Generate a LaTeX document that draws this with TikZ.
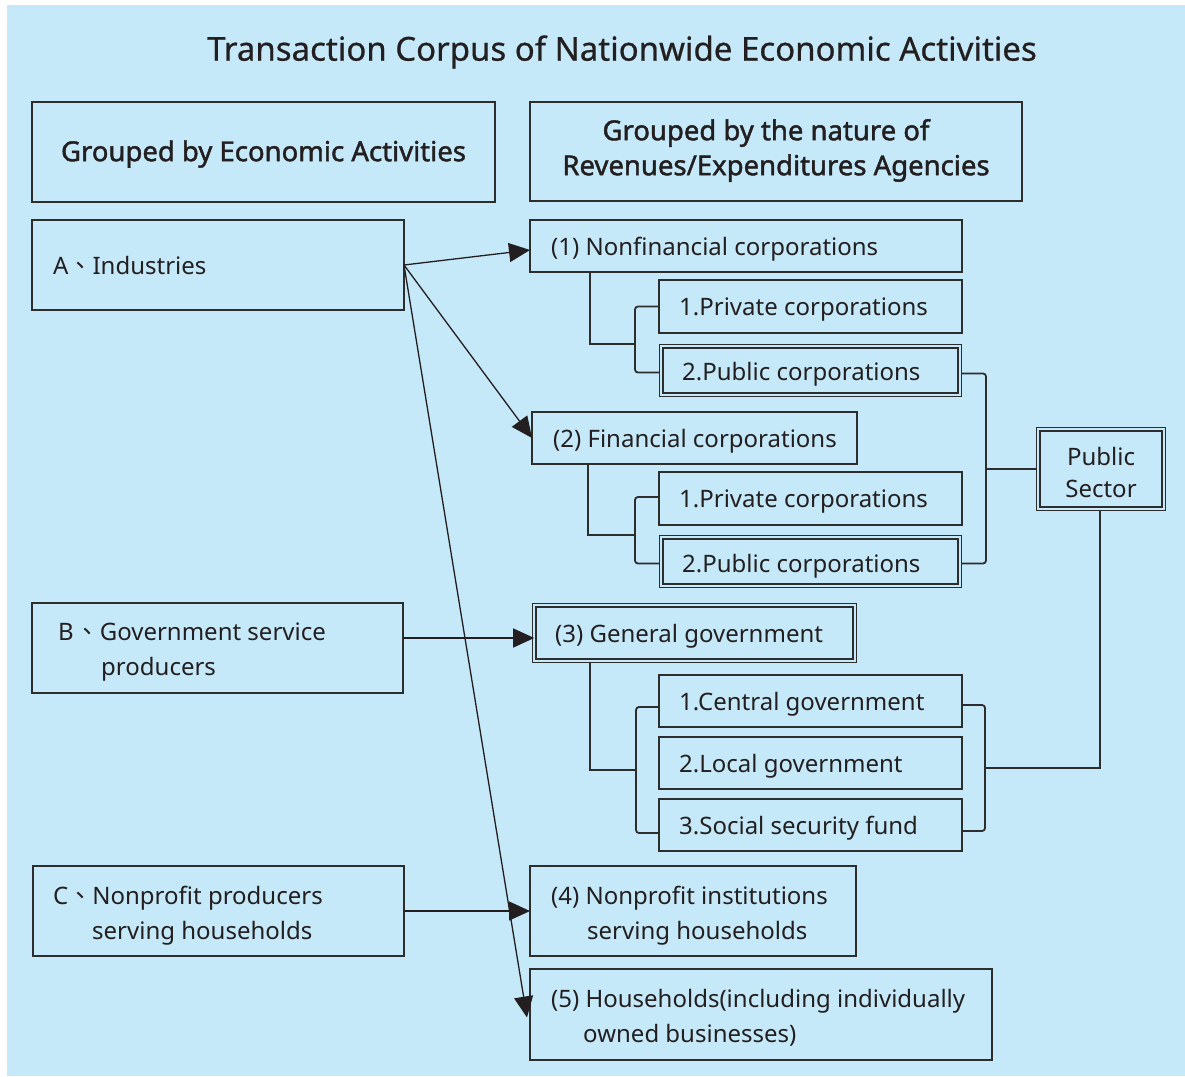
\documentclass[tikz,border=0pt]{standalone}
\usepackage{fontspec}
\setmainfont{Noto Sans}
\newfontfamily\cjk{Noto Sans CJK TC}
\newfontfamily\hdrfont[FakeBold=1.6]{Noto Sans}
\newfontfamily\ttlfont[FakeBold=0.6]{Noto Sans}
\usetikzlibrary{arrows.meta,calc}
\definecolor{bg}{RGB}{197,233,249}
\definecolor{ln}{RGB}{45,45,45}
\definecolor{tx}{RGB}{35,31,32}
\newcommand{\dun}{{\cjk 、}}
\begin{document}
\begin{tikzpicture}[x=1pt,y=-1pt,
 box/.style={draw=ln, line width=1.4pt, anchor=north west, inner sep=0pt, outer sep=0pt},
 dbox/.style={draw=ln, line width=1.6pt, double=bg, double distance=1.6pt, anchor=north west, inner sep=0pt, outer sep=0pt},
 txt/.style={text=tx, font=\fontsize{24}{35}\selectfont, inner sep=0pt, align=left, anchor=west},
 hdr/.style={text=tx, font=\hdrfont\fontsize{27.5}{35}\selectfont, inner sep=0pt, align=center},
 conn/.style={draw=ln, line width=1.8pt, rounded corners=3pt},
 arr/.style={draw=tx, line width=1.3pt, -{Triangle[length=21pt,width=19pt]}}
]
\useasboundingbox (0,0) rectangle (1185,1076);
\fill[white] (0,0) rectangle (1185,1076);
\fill[bg] (7,5) rectangle (1185,1076);

\node[text=tx, font=\ttlfont\fontsize{33}{40}\selectfont, inner sep=0pt] (title) at (622,52) {Transaction Corpus of Nationwide Economic Activities};

% headers
\node[box, minimum width=463pt, minimum height=100pt] (hl) at (32,102) {};
\node[hdr] (hlt) at ($(hl.center)+(0,2)$) {Grouped by Economic Activities};
\node[box, minimum width=492pt, minimum height=99pt] (hr) at (530,102) {};
\node[hdr] (hrt) at ($(hr.center)+(0,-1)$) {Grouped by the nature of\hspace*{20pt}\\Revenues/Expenditures Agencies};

% left boxes
\node[box, minimum width=372pt, minimum height=90pt] (A) at (32,220) {};
\node[txt] (At) at ($(A.west)+(21,0)$) {A\dun Industries};
\node[box, minimum width=371pt, minimum height=90pt] (B) at (32,603) {};
\node[txt] (Bt) at ($(B.west)+(26,4.5)$) {B\hspace{2pt}\dun Government service\\\hspace*{43pt}producers};
\node[box, minimum width=371pt, minimum height=90pt] (C) at (33,866) {};
\node[txt] (Ct) at ($(C.west)+(20,5)$) {C\dun Nonprofit producers\\\hspace*{39pt}serving households};

% right boxes
\node[box, minimum width=432pt, minimum height=52pt] (n1) at (530,220) {};
\node[txt] (n1t) at ($(n1.west)+(21,3.5)$) {(1) Nonfinancial corporations};
\node[box, minimum width=303pt, minimum height=53pt] (n1a) at (659,280) {};
\node[txt] (n1at) at ($(n1a.west)+(20,3.5)$) {1.Private corporations};
\node[dbox, minimum width=298.6pt, minimum height=48.6pt] (n1b) at (661.2,346.2) {};
\node[txt] (n1bt) at ($(n1b.west)+(20.8,3.5)$) {2.Public corporations};

\node[box, minimum width=325pt, minimum height=52pt] (n2) at (532,412) {};
\node[txt] (n2t) at ($(n2.west)+(21,3.5)$) {(2) Financial corporations};
\node[box, minimum width=303pt, minimum height=53pt] (n2a) at (659,472) {};
\node[txt] (n2at) at ($(n2a.west)+(20,3.5)$) {1.Private corporations};
\node[dbox, minimum width=298.6pt, minimum height=48.6pt] (n2b) at (661.2,537.2) {};
\node[txt] (n2bt) at ($(n2b.west)+(20.8,4.5)$) {2.Public corporations};

\node[dbox, minimum width=320.6pt, minimum height=55.6pt] (n3) at (534.2,605.2) {};
\node[txt] (n3t) at ($(n3.west)+(20.8,3)$) {(3) General government};
\node[box, minimum width=303pt, minimum height=52pt] (g1) at (659,675) {};
\node[txt] (g1t) at ($(g1.west)+(20,3)$) {1.Central government};
\node[box, minimum width=303pt, minimum height=52pt] (g2) at (659,737) {};
\node[txt] (g2t) at ($(g2.west)+(20,3)$) {2.Local government};
\node[box, minimum width=303pt, minimum height=52pt] (g3) at (659,799) {};
\node[txt] (g3t) at ($(g3.west)+(20,3)$) {3.Social security fund};

\node[box, minimum width=326pt, minimum height=90pt] (n4) at (530,866) {};
\node[txt] (n4t) at ($(n4.west)+(21,5)$) {(4) Nonprofit institutions\\\hspace*{36pt}serving households};
\node[box, minimum width=462pt, minimum height=91pt] (n5) at (530,969) {};
\node[txt] (n5t) at ($(n5.west)+(21,3.5)$) {(5) Households(including individually\\\hspace*{32pt}owned businesses)};

\node[dbox, minimum width=125.6pt, minimum height=79.6pt] (ps) at (1038.2,429.2) {};
\node[text=tx, font=\fontsize{24}{32}\selectfont, inner sep=0pt, align=center] (pst) at ($(ps.center)+(0,3)$) {Public\\Sector};

% brackets
\draw[conn] (n1a.west) -- ++(-24,0) |- ($(n1b.west)+(-2.2,2)$);
\draw[conn, rounded corners=0pt] ($(n1.south west)+(60,0)$) |- ($(n1a.west)+(-24,37.5)$);
\draw[conn] ($(n2a.west)+(0,-1.5)$) -- ++(-24,0) |- ($(n2b.west)+(-2.2,2)$);
\draw[conn, rounded corners=0pt] ($(n2.south west)+(56,0)$) |- ($(n2a.west)+(-24,36.5)$);
\draw[conn] ($(g1.west)+(0,6)$) -- ++(-23,0) |- ($(g3.west)+(0,8)$);
\draw[conn, rounded corners=0pt] ($(n3.south west)+(55.8,2.2)$) |- ($(g2.west)+(-23,7)$);

\draw[conn] ($(n1b.east)+(2.2,3)$) -- ++(24,0) |- ($(n2b.east)+(2.2,2)$);
\draw[conn, rounded corners=0pt] ($(ps.west)+(-2.2,0)$) -- ++(-50,0);
\draw[conn] ($(g1.east)+(0,4)$) -- ++(23,0) |- ($(g3.east)+(0,6)$);
\draw[conn, rounded corners=0pt] ($(ps.south)+(-1,2.2)$) |- ($(g2.east)+(23,5)$);

% arrows
\draw[arr] (A.east) -- ($(n1.west)+(0,4)$);
\draw[arr] (A.east) -- (n2.west);
\draw[arr] (A.east) -- ($(n5.west)+(-3,3)$);
\coordinate (bs) at ($(B.east)+(0,-10)$);
\draw[arr] (bs) -- (bs -| n3.west);
\draw[arr] (C.east) -- (n4.west);
\end{tikzpicture}
\end{document}
